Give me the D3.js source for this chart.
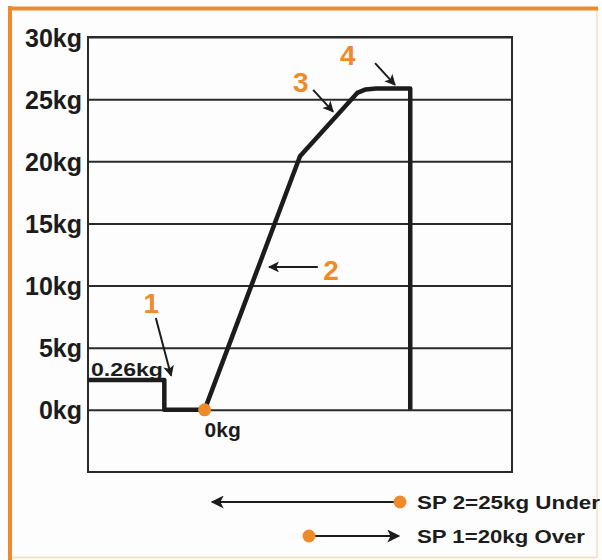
<!DOCTYPE html>
<html>
<head>
<meta charset="utf-8">
<script src="https://cdn.jsdelivr.net/npm/d3@7"></script>
<style>
  html, body { margin: 0; padding: 0; background: #fdfdfd; }
  svg { display: block; font-family: Arial, "Liberation Sans", Helvetica, sans-serif; }
</style>
</head>
<body>
<div id="chart"></div>
<script>
// y ticks (kg)
const yTicks = [0, 5, 10, 15, 20, 25, 30];
// weight trace: time (s) vs weight (kg)
const traceTime = [0, 1.8, 1.8, 2.75, 5.0, 6.35, 6.55, 6.8, 7.6, 7.6];
const traceKg   = [2.4, 2.4, 0, 0, 20.4, 25.5, 25.78, 25.85, 25.85, 0];
// numbered callouts: label pos, arrow start, arrow end
const calloutText = ['1', '2', '3', '4'];
const calloutAt   = [[1.49, 7.8], [5.73, 10.45], [5.02, 25.6], [6.13, 27.75]];
const arrowFrom   = [[1.6, 7.4], [5.42, 11.5], [5.31, 25.75], [6.77, 27.9]];
const arrowTo     = [[1.96, 2.75], [4.27, 11.5], [5.78, 24.0], [7.24, 26.15]];
// start marker
const zeroPoint = [2.75, 0];
const legendLabels = ['SP 2=25kg Under', 'SP 1=20kg Over'];

const W = 602, H = 560;
const orange = '#ef8a2b';
const ink = '#1c1c1c';

const svg = d3.select('#chart').append('svg')
  .attr('width', W)
  .attr('height', H);

// frame
svg.append('rect').attr('x', 0).attr('y', 0).attr('width', W).attr('height', H).attr('fill', '#fdfdfd');
svg.append('line').attr('x1', 597).attr('x2', 597).attr('y1', 8).attr('y2', 558)
  .attr('stroke', '#f7dcc0').attr('stroke-width', 1.5);
svg.append('line').attr('x1', 10).attr('x2', 597).attr('y1', 557.5).attr('y2', 557.5)
  .attr('stroke', '#f7dcc0').attr('stroke-width', 1.5);
svg.append('line').attr('x1', 10).attr('x2', 10).attr('y1', 6).attr('y2', 560)
  .attr('stroke', orange).attr('stroke-width', 4);
svg.append('line').attr('x1', 8).attr('x2', 598).attr('y1', 8.5).attr('y2', 8.5)
  .attr('stroke', orange).attr('stroke-width', 4);

const plot = { left: 88, right: 512, top: 37, bottom: 472 };

const x = d3.scaleLinear().domain([0, 10]).range([plot.left, plot.right]);
const y = d3.scaleLinear().domain([-5, 30]).range([plot.bottom, plot.top]);

// grid lines + labels via axis
const yAxis = svg.append('g')
  .attr('transform', `translate(${plot.left},0)`)
  .call(d3.axisLeft(y).tickValues(yTicks).tickSize(-(plot.right - plot.left)).tickPadding(6)
    .tickFormat(d => d + 'kg'));
yAxis.select('.domain').remove();
yAxis.selectAll('.tick line').attr('stroke', '#2a2a2a').attr('stroke-width', 2);
yAxis.selectAll('.tick text')
  .attr('fill', ink)
  .attr('font-size', 25)
  .attr('font-weight', 'bold')
  .attr('dy', '0.36em');

// plot box
svg.append('rect')
  .attr('x', plot.left).attr('y', plot.top)
  .attr('width', plot.right - plot.left).attr('height', plot.bottom - plot.top)
  .attr('fill', 'none').attr('stroke', '#2a2a2a').attr('stroke-width', 2);

// trace
const line = d3.line().x(d => x(d[0])).y(d => y(d[1]));
svg.append('path')
  .datum(traceTime.map((t, i) => [t, traceKg[i]]))
  .attr('d', line)
  .attr('fill', 'none')
  .attr('stroke', ink)
  .attr('stroke-width', 4.5)
  .attr('stroke-linejoin', 'round');

// arrow markers
const defs = svg.append('defs');
defs.append('marker')
  .attr('id', 'ah').attr('viewBox', '0 0 10 10')
  .attr('refX', 9).attr('refY', 5)
  .attr('markerWidth', 12).attr('markerHeight', 11)
  .attr('markerUnits', 'userSpaceOnUse')
  .attr('orient', 'auto')
  .append('path').attr('d', 'M0,0 L10,5 L0,10 L2.5,5 Z').attr('fill', ink);
defs.append('marker')
  .attr('id', 'ahL').attr('viewBox', '0 0 10 10')
  .attr('refX', 9).attr('refY', 5)
  .attr('markerWidth', 16).attr('markerHeight', 13)
  .attr('markerUnits', 'userSpaceOnUse')
  .attr('orient', 'auto')
  .append('path').attr('d', 'M0,0 L10,5 L0,10 L2.5,5 Z').attr('fill', ink);

// callouts
calloutText.forEach((t, i) => {
  svg.append('line')
    .attr('x1', x(arrowFrom[i][0])).attr('y1', y(arrowFrom[i][1]))
    .attr('x2', x(arrowTo[i][0])).attr('y2', y(arrowTo[i][1]))
    .attr('stroke', ink).attr('stroke-width', 2)
    .attr('marker-end', 'url(#ah)');
  svg.append('text')
    .attr('x', x(calloutAt[i][0])).attr('y', y(calloutAt[i][1]))
    .attr('text-anchor', 'middle')
    .attr('font-size', 28).attr('font-weight', 'bold')
    .attr('fill', orange)
    .text(t);
});

// value labels
svg.append('text')
  .attr('x', x(0) + 3).attr('y', y(traceKg[0]) - 4)
  .attr('font-size', 19).attr('font-weight', 'bold').attr('fill', ink)
  .attr('textLength', 72).attr('lengthAdjust', 'spacingAndGlyphs')
  .text('0.26kg');

svg.append('circle')
  .attr('cx', x(zeroPoint[0])).attr('cy', y(zeroPoint[1]))
  .attr('r', 6.5).attr('fill', orange);
svg.append('text')
  .attr('x', x(zeroPoint[0])).attr('y', y(zeroPoint[1]) + 27)
  .attr('font-size', 21).attr('font-weight', 'bold').attr('fill', ink)
  .text('0kg');

// legend
const legend = svg.append('g');
const rows = [
  { dot: 400, from: 400, to: 212, y: 502 },
  { dot: 309, from: 309, to: 399, y: 536 }
];
rows.forEach((r, i) => {
  legend.append('line')
    .attr('x1', r.from).attr('x2', r.to).attr('y1', r.y).attr('y2', r.y)
    .attr('stroke', ink).attr('stroke-width', 2)
    .attr('marker-end', 'url(#ahL)');
  legend.append('circle').attr('cx', r.dot).attr('cy', r.y).attr('r', 6.5).attr('fill', orange);
  legend.append('text')
    .attr('x', 417).attr('y', r.y + 7)
    .attr('font-size', 18).attr('font-weight', 'bold').attr('fill', ink)
    .attr('textLength', i === 0 ? 183 : 168).attr('lengthAdjust', 'spacingAndGlyphs')
    .text(legendLabels[i]);
});
</script>
</body>
</html>
